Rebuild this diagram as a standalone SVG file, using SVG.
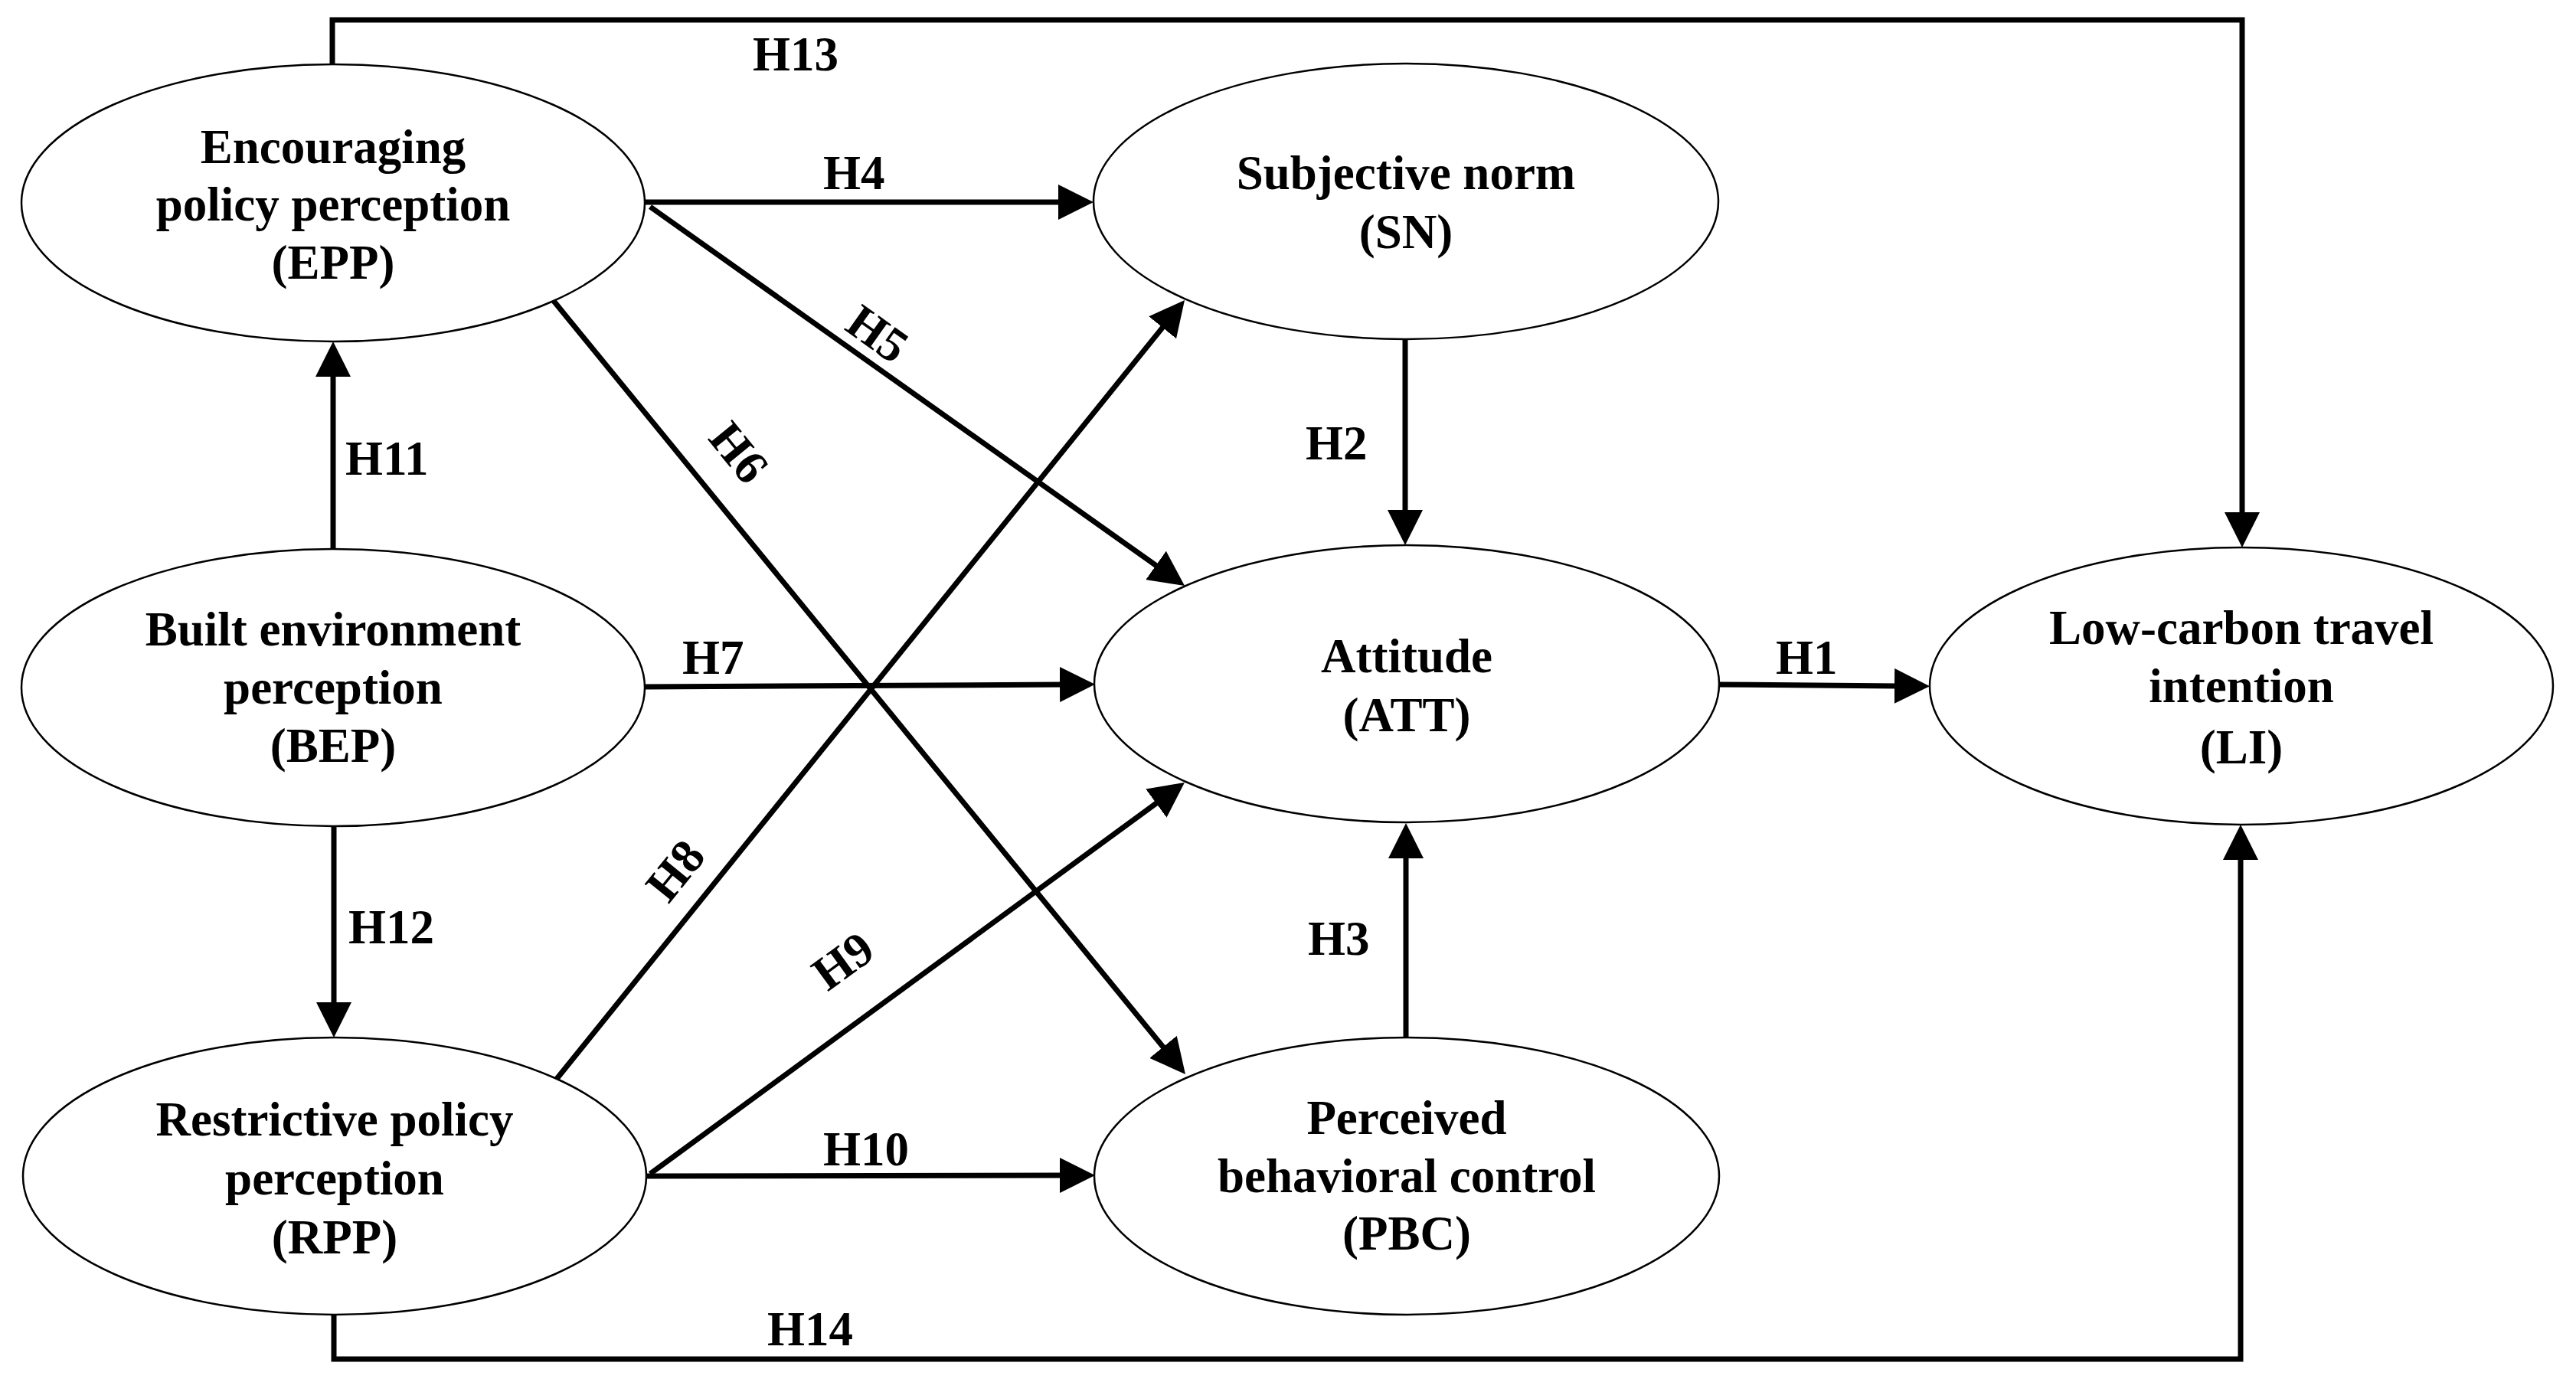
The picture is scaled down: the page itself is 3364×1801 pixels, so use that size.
<svg xmlns="http://www.w3.org/2000/svg" width="3364" height="1801" viewBox="0 0 3364 1801">
<style>
.node ellipse{fill:#fff;stroke:#000;stroke-width:2.5}
.node text,.lbl{font-family:"Liberation Serif","Times New Roman",serif;font-weight:bold;font-size:63px;fill:#000}
.node text{text-anchor:middle}
.edge{fill:none;stroke:#000;stroke-width:7;marker-end:url(#arr)}
</style>
<defs>
<marker id="arr" viewBox="0 0 46 46" refX="6" refY="23" markerWidth="46" markerHeight="46" markerUnits="userSpaceOnUse" orient="auto">
<path d="M0,0 L46,23 L0,46 z" fill="#000"/>
</marker>
</defs>
<rect width="3364" height="1801" fill="#fff"/>
<g id="connectors">
<polyline class="edge" points="434,84 434,26 2928,26 2928,675"/>
<polyline class="edge" points="436,1717 436,1775 2926,1775 2926,1117"/>
<line class="edge" x1="435" y1="717" x2="435" y2="486"/>
<line class="edge" x1="436" y1="1079" x2="436" y2="1315"/>
<line class="edge" x1="842" y1="264" x2="1388" y2="264"/>
<line class="edge" x1="842" y1="897" x2="1390" y2="894"/>
<line class="edge" x1="845" y1="1536" x2="1390" y2="1535"/>
<line class="edge" x1="2245" y1="894" x2="2480" y2="896"/>
<line class="edge" x1="1835" y1="443" x2="1835" y2="672"/>
<line class="edge" x1="1836" y1="1355" x2="1836" y2="1115"/>
<line class="edge" x1="849" y1="270" x2="1514.4" y2="741.9"/>
<line class="edge" x1="723" y1="393" x2="1522.7" y2="1372"/>
<line class="edge" x1="727" y1="1409" x2="1521.9" y2="423.1"/>
<line class="edge" x1="849" y1="1533" x2="1514.7" y2="1045.6"/>
<text class="lbl" x="983" y="92">H13</text>
<text class="lbl" x="1002" y="1757">H14</text>
<text class="lbl" x="451" y="620">H11</text>
<text class="lbl" x="455" y="1232">H12</text>
<text class="lbl" x="1075" y="247">H4</text>
<text class="lbl" x="891" y="880">H7</text>
<text class="lbl" x="1075" y="1522">H10</text>
<text class="lbl" x="2319" y="880">H1</text>
<text class="lbl" x="1705" y="600">H2</text>
<text class="lbl" x="1708" y="1247">H3</text>
<text class="lbl" text-anchor="middle" transform="translate(1146,436) rotate(35.4)" x="0" y="21">H5</text>
<text class="lbl" text-anchor="middle" transform="translate(965,591) rotate(50.9)" x="0" y="21">H6</text>
<text class="lbl" text-anchor="middle" transform="translate(882,1137) rotate(-51)" x="0" y="21">H8</text>
<text class="lbl" text-anchor="middle" transform="translate(1101,1255) rotate(-36)" x="0" y="21">H9</text>
</g>
<g id="EPP" class="node">
<ellipse cx="435" cy="265" rx="407" ry="181"/>
<text x="435" y="213">Encouraging</text>
<text x="435" y="288">policy perception</text>
<text x="435" y="364">(EPP)</text>
</g>
<g id="BEP" class="node">
<ellipse cx="435" cy="898" rx="407" ry="181"/>
<text x="435" y="843">Built environment</text>
<text x="435" y="919">perception</text>
<text x="435" y="995">(BEP)</text>
</g>
<g id="RPP" class="node">
<ellipse cx="437" cy="1536" rx="407" ry="181"/>
<text x="437" y="1483">Restrictive policy</text>
<text x="437" y="1560">perception</text>
<text x="437" y="1637">(RPP)</text>
</g>
<g id="SN" class="node">
<ellipse cx="1836" cy="263" rx="408" ry="180"/>
<text x="1836" y="247">Subjective norm</text>
<text x="1836" y="324">(SN)</text>
</g>
<g id="ATT" class="node">
<ellipse cx="1837" cy="893" rx="408" ry="181"/>
<text x="1837" y="878">Attitude</text>
<text x="1837" y="955">(ATT)</text>
</g>
<g id="PBC" class="node">
<ellipse cx="1837" cy="1536" rx="408" ry="181"/>
<text x="1837" y="1481">Perceived</text>
<text x="1837" y="1557">behavioral control</text>
<text x="1837" y="1632">(PBC)</text>
</g>
<g id="LI" class="node">
<ellipse cx="2927" cy="896" rx="407" ry="181"/>
<text x="2927" y="841">Low-carbon travel</text>
<text x="2927" y="917">intention</text>
<text x="2927" y="997">(LI)</text>
</g>
</svg>
